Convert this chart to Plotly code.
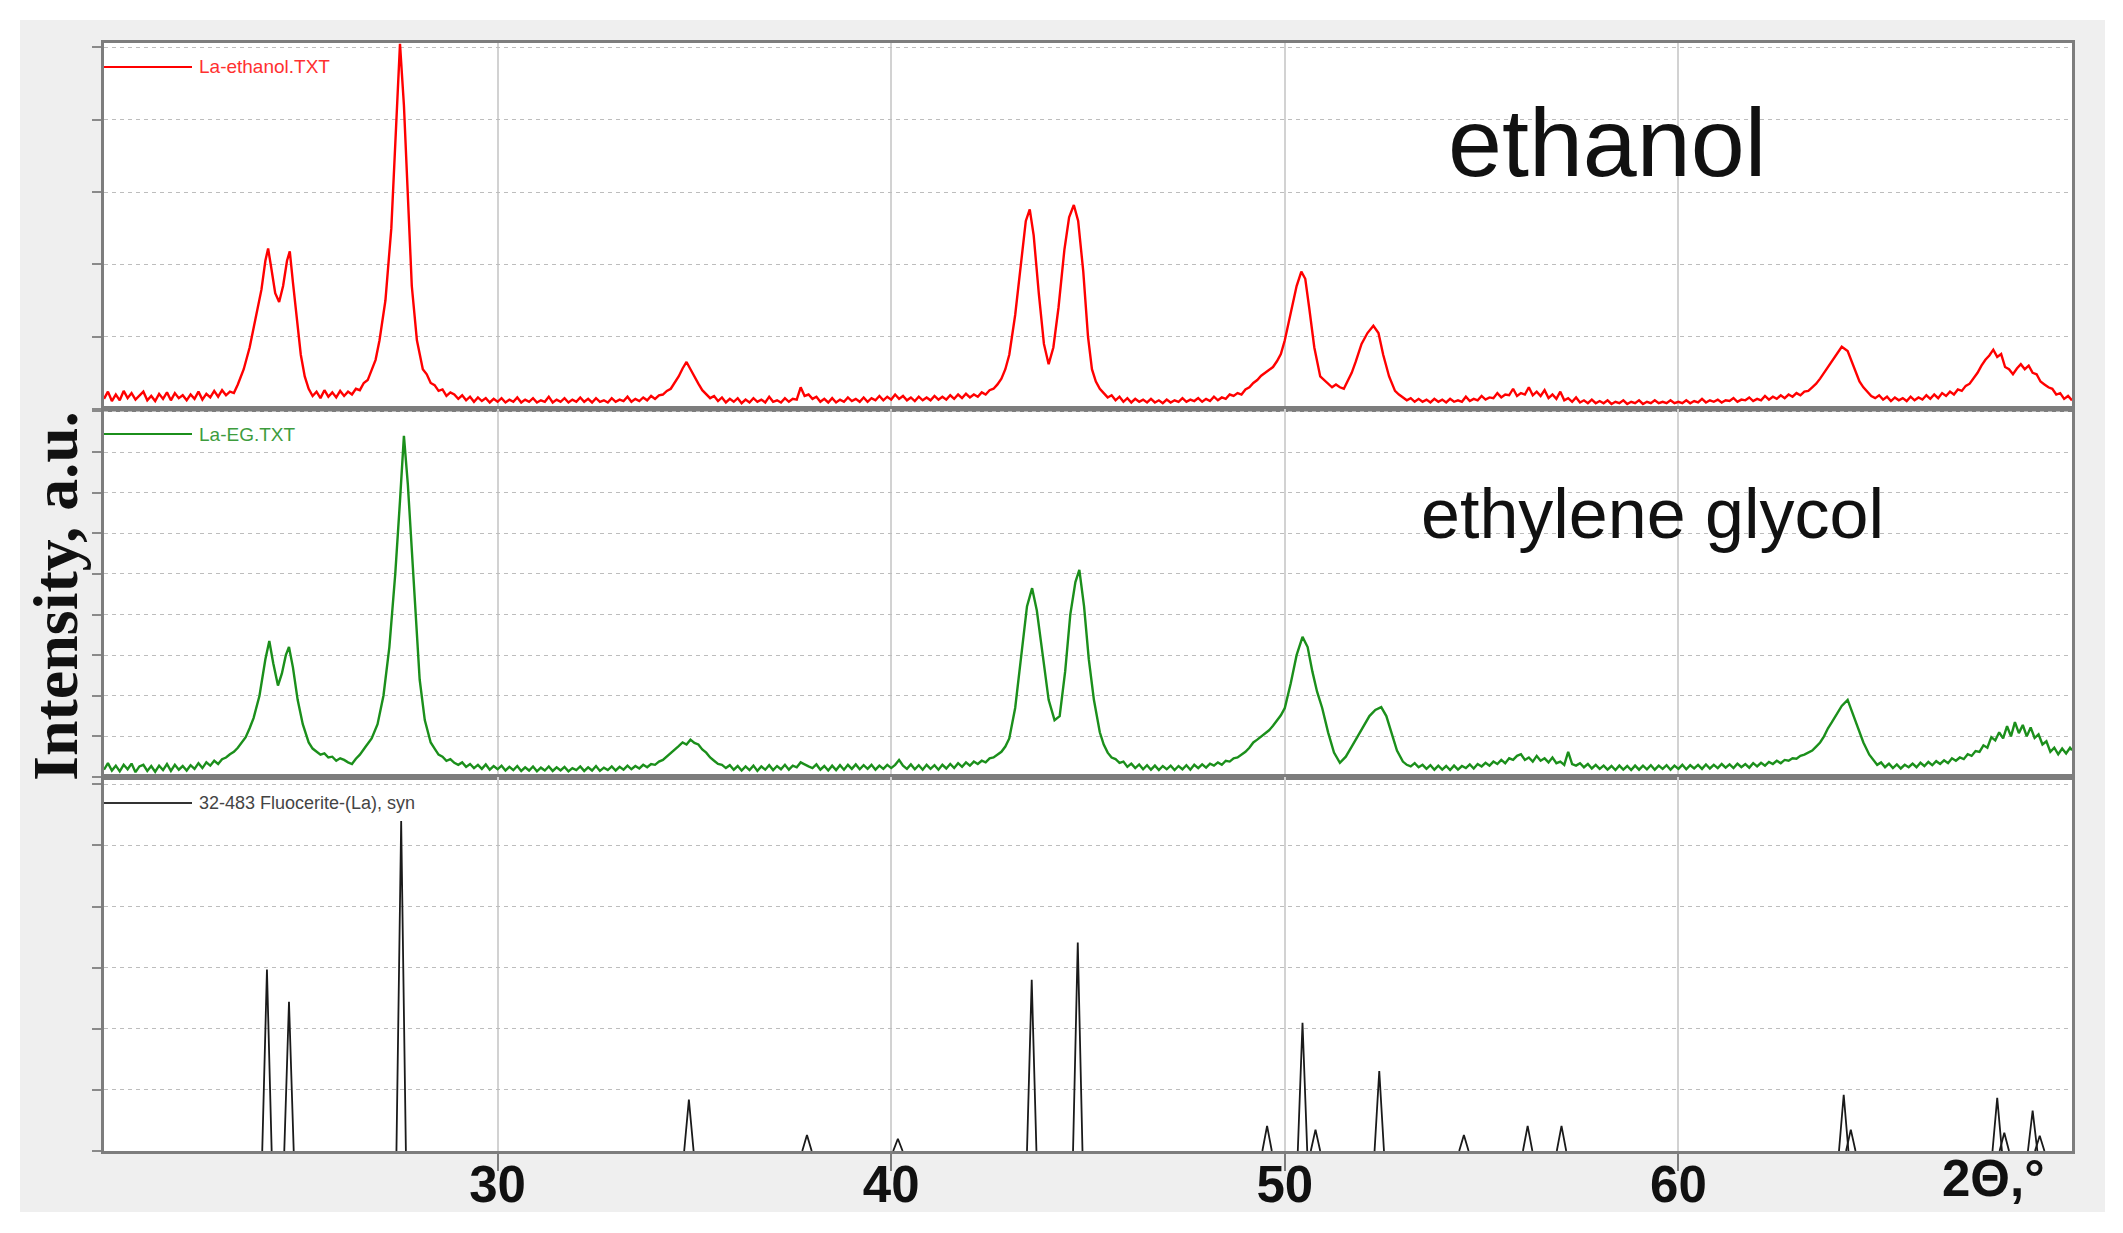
import plotly.graph_objects as go
from plotly.subplots import make_subplots

# ---------------- data ----------------
x_range = [20, 70]
x_ticks = [30, 40, 50, 60]

# La-ethanol.TXT  (top panel, a.u.)
ethanol_scan = [
    (20.0, 14), (20.1, 24), (20.2, 11), (20.3, 20), (20.4, 12), (20.5, 25), (20.6, 15), (20.7, 22),
    (20.8, 13), (20.9, 19), (21.0, 24), (21.1, 12), (21.2, 18), (21.3, 11), (21.4, 21), (21.5, 14),
    (21.6, 23), (21.7, 12), (21.8, 22), (21.9, 15), (22.0, 19), (22.1, 12), (22.2, 20), (22.3, 14),
    (22.4, 24), (22.5, 13), (22.6, 21), (22.7, 16), (22.8, 25), (22.9, 17), (23.0, 26), (23.1, 19),
    (23.2, 24), (23.3, 22), (23.4, 34), (23.55, 55), (23.7, 85), (23.85, 125), (24.0, 165), (24.1, 205),
    (24.17, 222), (24.25, 195), (24.35, 160), (24.45, 148), (24.55, 170), (24.65, 205), (24.72, 218),
    (24.8, 175), (24.9, 120), (25.0, 75), (25.1, 45), (25.2, 28), (25.3, 18), (25.4, 24), (25.5, 15),
    (25.6, 26), (25.7, 17), (25.8, 23), (25.9, 16), (26.0, 25), (26.1, 18), (26.2, 24), (26.3, 20),
    (26.4, 28), (26.5, 26), (26.6, 36), (26.7, 40), (26.8, 55), (26.9, 68), (27.0, 95), (27.15, 150),
    (27.3, 250), (27.42, 400), (27.52, 505), (27.62, 420), (27.72, 300), (27.82, 170), (27.95, 95),
    (28.1, 55), (28.2, 48), (28.3, 36), (28.4, 33), (28.5, 25), (28.6, 27), (28.7, 18), (28.8, 23),
    (28.9, 20), (29.0, 14), (29.1, 19), (29.2, 12), (29.3, 17), (29.4, 10), (29.5, 16), (29.6, 11),
    (29.7, 15), (29.8, 9), (29.9, 14), (30.0, 10), (30.1, 15), (30.2, 9), (30.3, 13), (30.4, 10),
    (30.5, 16), (30.6, 9), (30.7, 13), (30.8, 10), (30.9, 15), (31.0, 9), (31.1, 12), (31.2, 10),
    (31.3, 17), (31.4, 9), (31.5, 13), (31.6, 10), (31.7, 15), (31.8, 9), (31.9, 13), (32.0, 10),
    (32.1, 16), (32.2, 10), (32.3, 14), (32.4, 9), (32.5, 15), (32.6, 10), (32.7, 12), (32.8, 9),
    (32.9, 15), (33.0, 10), (33.1, 13), (33.2, 11), (33.3, 17), (33.4, 10), (33.5, 14), (33.6, 11),
    (33.7, 16), (33.8, 12), (33.9, 18), (34.0, 14), (34.1, 19), (34.2, 20), (34.3, 25), (34.4, 28),
    (34.5, 36), (34.6, 45), (34.7, 56), (34.8, 65), (34.9, 55), (35.0, 46), (35.1, 35), (35.2, 26),
    (35.3, 20), (35.4, 15), (35.5, 18), (35.6, 11), (35.7, 16), (35.8, 9), (35.9, 14), (36.0, 10),
    (36.1, 15), (36.2, 8), (36.3, 13), (36.4, 9), (36.5, 15), (36.6, 10), (36.7, 13), (36.8, 9),
    (36.9, 17), (37.0, 10), (37.1, 12), (37.2, 9), (37.3, 15), (37.4, 10), (37.5, 14), (37.6, 13),
    (37.7, 30), (37.8, 18), (37.9, 20), (38.0, 14), (38.1, 17), (38.2, 10), (38.3, 14), (38.4, 9),
    (38.5, 15), (38.6, 9), (38.7, 13), (38.8, 10), (38.9, 16), (39.0, 11), (39.1, 14), (39.2, 10),
    (39.3, 16), (39.4, 10), (39.5, 15), (39.6, 12), (39.7, 18), (39.8, 12), (39.9, 17), (40.0, 13),
    (40.1, 20), (40.2, 14), (40.3, 18), (40.4, 12), (40.5, 16), (40.6, 11), (40.7, 17), (40.8, 12),
    (40.9, 16), (41.0, 12), (41.1, 18), (41.2, 13), (41.3, 17), (41.4, 13), (41.5, 19), (41.6, 14),
    (41.7, 20), (41.8, 15), (41.9, 21), (42.0, 16), (42.1, 20), (42.2, 17), (42.3, 23), (42.4, 20),
    (42.5, 26), (42.6, 28), (42.7, 34), (42.8, 42), (42.9, 55), (43.0, 75), (43.15, 130), (43.3, 205),
    (43.42, 260), (43.52, 276), (43.62, 240), (43.75, 160), (43.88, 90), (44.0, 62), (44.12, 85),
    (44.25, 140), (44.4, 220), (44.52, 265), (44.64, 282), (44.75, 260), (44.88, 190), (45.0, 100),
    (45.1, 55), (45.2, 38), (45.3, 28), (45.4, 22), (45.5, 16), (45.6, 19), (45.7, 12), (45.8, 17),
    (45.9, 10), (46.0, 15), (46.1, 9), (46.2, 14), (46.3, 10), (46.4, 13), (46.5, 9), (46.6, 14),
    (46.7, 9), (46.8, 12), (46.9, 8), (47.0, 13), (47.1, 9), (47.2, 12), (47.3, 10), (47.4, 15),
    (47.5, 10), (47.6, 13), (47.7, 11), (47.8, 15), (47.9, 10), (48.0, 14), (48.1, 11), (48.2, 17),
    (48.3, 12), (48.4, 16), (48.5, 14), (48.6, 20), (48.7, 18), (48.8, 22), (48.9, 20), (49.0, 27),
    (49.1, 30), (49.2, 36), (49.3, 40), (49.4, 46), (49.5, 50), (49.6, 54), (49.7, 58), (49.8, 66),
    (49.9, 76), (50.0, 95), (50.15, 135), (50.3, 170), (50.42, 190), (50.52, 180), (50.62, 140),
    (50.75, 85), (50.9, 45), (51.0, 40), (51.1, 36), (51.2, 30), (51.3, 34), (51.4, 30), (51.5, 28),
    (51.6, 38), (51.7, 50), (51.8, 65), (51.95, 90), (52.1, 105), (52.25, 115), (52.38, 105),
    (52.5, 75), (52.65, 45), (52.8, 25), (52.9, 20), (53.0, 16), (53.1, 12), (53.2, 15), (53.3, 10),
    (53.4, 14), (53.5, 10), (53.6, 13), (53.7, 9), (53.8, 14), (53.9, 10), (54.0, 13), (54.1, 9),
    (54.2, 14), (54.3, 10), (54.4, 12), (54.5, 10), (54.6, 17), (54.7, 11), (54.8, 14), (54.9, 12),
    (55.0, 18), (55.1, 13), (55.2, 16), (55.3, 15), (55.4, 22), (55.5, 16), (55.6, 20), (55.7, 19),
    (55.8, 28), (55.9, 18), (56.0, 22), (56.1, 20), (56.2, 30), (56.3, 19), (56.4, 24), (56.5, 18),
    (56.6, 26), (56.7, 15), (56.8, 20), (56.9, 14), (57.0, 24), (57.1, 12), (57.2, 15), (57.3, 10),
    (57.4, 16), (57.5, 9), (57.6, 12), (57.7, 8), (57.8, 13), (57.9, 8), (58.0, 11), (58.1, 8),
    (58.2, 12), (58.3, 7), (58.4, 10), (58.5, 8), (58.6, 12), (58.7, 7), (58.8, 10), (58.9, 8),
    (59.0, 12), (59.1, 7), (59.2, 10), (59.3, 8), (59.4, 12), (59.5, 8), (59.6, 10), (59.7, 8),
    (59.8, 12), (59.9, 8), (60.0, 10), (60.1, 8), (60.2, 12), (60.3, 8), (60.4, 11), (60.5, 9),
    (60.6, 14), (60.7, 9), (60.8, 12), (60.9, 10), (61.0, 13), (61.1, 9), (61.2, 12), (61.3, 11),
    (61.4, 15), (61.5, 10), (61.6, 13), (61.7, 12), (61.8, 16), (61.9, 11), (62.0, 14), (62.1, 12),
    (62.2, 18), (62.3, 13), (62.4, 17), (62.5, 14), (62.6, 19), (62.7, 15), (62.8, 20), (62.9, 17),
    (63.0, 22), (63.1, 19), (63.2, 24), (63.3, 25), (63.4, 30), (63.5, 35), (63.6, 42), (63.7, 50),
    (63.8, 58), (63.9, 66), (64.0, 75), (64.15, 86), (64.3, 80), (64.45, 58), (64.6, 38), (64.7, 30),
    (64.8, 24), (64.9, 18), (65.0, 15), (65.1, 19), (65.2, 13), (65.3, 17), (65.4, 11), (65.5, 16),
    (65.6, 12), (65.7, 15), (65.8, 11), (65.9, 17), (66.0, 12), (66.1, 16), (66.2, 13), (66.3, 19),
    (66.4, 14), (66.5, 20), (66.6, 15), (66.7, 22), (66.8, 18), (66.9, 24), (67.0, 20), (67.1, 27),
    (67.2, 25), (67.3, 32), (67.4, 35), (67.5, 42), (67.6, 50), (67.7, 60), (67.8, 68), (67.9, 74),
    (68.0, 82), (68.1, 72), (68.2, 76), (68.3, 58), (68.4, 55), (68.5, 48), (68.6, 56), (68.7, 62),
    (68.8, 55), (68.9, 60), (69.0, 50), (69.1, 48), (69.2, 38), (69.3, 34), (69.4, 30), (69.5, 28),
    (69.6, 20), (69.7, 22), (69.8, 14), (69.9, 18), (70.0, 12),
]

# La-EG.TXT  (middle panel, a.u.)
eg_scan = [
    (20.0, 18), (20.1, 34), (20.2, 16), (20.3, 28), (20.4, 14), (20.5, 30), (20.6, 19), (20.7, 33),
    (20.8, 12), (20.9, 26), (21.0, 30), (21.1, 15), (21.2, 27), (21.3, 13), (21.4, 28), (21.5, 17),
    (21.6, 32), (21.7, 15), (21.8, 30), (21.9, 18), (22.0, 27), (22.1, 16), (22.2, 29), (22.3, 20),
    (22.4, 34), (22.5, 22), (22.6, 36), (22.7, 28), (22.8, 40), (22.9, 32), (23.0, 44), (23.1, 48),
    (23.2, 56), (23.3, 62), (23.4, 72), (23.5, 85), (23.6, 98), (23.7, 120), (23.8, 145), (23.95, 200),
    (24.1, 290), (24.2, 335), (24.3, 280), (24.42, 225), (24.52, 255), (24.62, 300), (24.7, 320),
    (24.8, 270), (24.92, 190), (25.05, 130), (25.2, 85), (25.3, 70), (25.4, 62), (25.5, 55),
    (25.6, 58), (25.7, 48), (25.8, 50), (25.9, 40), (26.0, 46), (26.1, 42), (26.2, 36), (26.3, 32),
    (26.4, 45), (26.5, 55), (26.65, 75), (26.8, 95), (26.95, 130), (27.1, 200), (27.25, 320),
    (27.4, 500), (27.52, 680), (27.62, 840), (27.72, 720), (27.82, 560), (27.92, 380), (28.02, 240),
    (28.15, 140), (28.3, 85), (28.4, 70), (28.5, 55), (28.6, 50), (28.7, 40), (28.8, 44), (28.9, 35),
    (29.0, 30), (29.1, 36), (29.2, 25), (29.3, 32), (29.4, 22), (29.5, 30), (29.6, 20), (29.7, 31),
    (29.8, 18), (29.9, 27), (30.0, 19), (30.1, 28), (30.2, 16), (30.3, 25), (30.4, 17), (30.5, 27),
    (30.6, 15), (30.7, 24), (30.8, 16), (30.9, 26), (31.0, 14), (31.1, 23), (31.2, 16), (31.3, 26),
    (31.4, 15), (31.5, 24), (31.6, 16), (31.7, 25), (31.8, 14), (31.9, 22), (32.0, 17), (32.1, 26),
    (32.2, 15), (32.3, 24), (32.4, 16), (32.5, 27), (32.6, 15), (32.7, 23), (32.8, 17), (32.9, 26),
    (33.0, 16), (33.1, 25), (33.2, 18), (33.3, 28), (33.4, 19), (33.5, 27), (33.6, 21), (33.7, 30),
    (33.8, 24), (33.9, 32), (34.0, 30), (34.1, 38), (34.2, 42), (34.3, 50), (34.4, 58), (34.5, 68),
    (34.6, 76), (34.7, 85), (34.8, 80), (34.9, 92), (35.0, 84), (35.1, 80), (35.2, 68), (35.3, 60),
    (35.4, 48), (35.5, 40), (35.6, 32), (35.7, 30), (35.8, 22), (35.9, 29), (36.0, 18), (36.1, 27),
    (36.2, 16), (36.3, 26), (36.4, 17), (36.5, 28), (36.6, 15), (36.7, 26), (36.8, 18), (36.9, 29),
    (37.0, 17), (37.1, 27), (37.2, 19), (37.3, 30), (37.4, 18), (37.5, 28), (37.6, 24), (37.7, 36),
    (37.8, 30), (37.9, 26), (38.0, 22), (38.1, 31), (38.2, 18), (38.3, 27), (38.4, 16), (38.5, 28),
    (38.6, 17), (38.7, 29), (38.8, 18), (38.9, 30), (39.0, 20), (39.1, 31), (39.2, 19), (39.3, 29),
    (39.4, 20), (39.5, 30), (39.6, 18), (39.7, 28), (39.8, 20), (39.9, 30), (40.0, 22), (40.1, 30),
    (40.2, 42), (40.3, 28), (40.4, 20), (40.5, 31), (40.6, 19), (40.7, 29), (40.8, 18), (40.9, 30),
    (41.0, 20), (41.1, 29), (41.2, 18), (41.3, 30), (41.4, 21), (41.5, 32), (41.6, 22), (41.7, 34),
    (41.8, 25), (41.9, 36), (42.0, 28), (42.1, 38), (42.2, 32), (42.3, 40), (42.4, 36), (42.5, 46),
    (42.6, 48), (42.7, 55), (42.8, 62), (42.9, 75), (43.0, 95), (43.15, 170), (43.3, 300),
    (43.45, 420), (43.58, 465), (43.7, 410), (43.85, 300), (44.0, 190), (44.15, 140), (44.28, 150),
    (44.42, 260), (44.55, 400), (44.68, 480), (44.78, 510), (44.9, 420), (45.02, 290), (45.15, 190),
    (45.3, 110), (45.4, 80), (45.5, 60), (45.6, 48), (45.7, 44), (45.8, 35), (45.9, 38), (46.0, 25),
    (46.1, 33), (46.2, 22), (46.3, 31), (46.4, 19), (46.5, 29), (46.6, 18), (46.7, 28), (46.8, 17),
    (46.9, 27), (47.0, 19), (47.1, 28), (47.2, 17), (47.3, 27), (47.4, 19), (47.5, 29), (47.6, 18),
    (47.7, 30), (47.8, 22), (47.9, 31), (48.0, 23), (48.1, 33), (48.2, 28), (48.3, 36), (48.4, 30),
    (48.5, 40), (48.6, 38), (48.7, 46), (48.8, 48), (48.9, 55), (49.0, 62), (49.1, 72), (49.2, 85),
    (49.3, 92), (49.4, 100), (49.5, 108), (49.6, 115), (49.7, 126), (49.8, 140), (49.9, 152),
    (50.0, 170), (50.15, 230), (50.3, 300), (50.45, 345), (50.58, 320), (50.7, 260), (50.82, 210),
    (50.95, 170), (51.1, 110), (51.25, 60), (51.4, 35), (51.55, 50), (51.7, 75), (51.85, 100),
    (52.0, 125), (52.15, 150), (52.3, 165), (52.45, 172), (52.58, 150), (52.7, 110), (52.85, 65),
    (53.0, 38), (53.1, 30), (53.2, 26), (53.3, 34), (53.4, 24), (53.5, 30), (53.6, 20), (53.7, 29),
    (53.8, 18), (53.9, 28), (54.0, 18), (54.1, 27), (54.2, 17), (54.3, 28), (54.4, 18), (54.5, 27),
    (54.6, 22), (54.7, 31), (54.8, 21), (54.9, 32), (55.0, 26), (55.1, 35), (55.2, 28), (55.3, 38),
    (55.4, 32), (55.5, 42), (55.6, 34), (55.7, 46), (55.8, 42), (55.9, 52), (56.0, 56), (56.1, 42),
    (56.2, 48), (56.3, 38), (56.4, 52), (56.5, 40), (56.6, 46), (56.7, 36), (56.8, 48), (56.9, 34),
    (57.0, 38), (57.1, 30), (57.2, 62), (57.3, 32), (57.4, 28), (57.5, 34), (57.6, 24), (57.7, 32),
    (57.8, 21), (57.9, 30), (58.0, 20), (58.1, 28), (58.2, 18), (58.3, 27), (58.4, 17), (58.5, 28),
    (58.6, 18), (58.7, 27), (58.8, 17), (58.9, 28), (59.0, 18), (59.1, 28), (59.2, 19), (59.3, 29),
    (59.4, 18), (59.5, 28), (59.6, 20), (59.7, 29), (59.8, 18), (59.9, 28), (60.0, 20), (60.1, 30),
    (60.2, 19), (60.3, 29), (60.4, 21), (60.5, 30), (60.6, 20), (60.7, 31), (60.8, 21), (60.9, 30),
    (61.0, 22), (61.1, 32), (61.2, 23), (61.3, 31), (61.4, 22), (61.5, 33), (61.6, 24), (61.7, 32),
    (61.8, 23), (61.9, 34), (62.0, 26), (62.1, 35), (62.2, 28), (62.3, 37), (62.4, 32), (62.5, 40),
    (62.6, 34), (62.7, 42), (62.8, 40), (62.9, 46), (63.0, 45), (63.1, 52), (63.2, 55), (63.3, 60),
    (63.4, 65), (63.5, 75), (63.6, 85), (63.7, 100), (63.8, 120), (63.9, 135), (64.0, 150),
    (64.15, 175), (64.3, 190), (64.42, 160), (64.55, 125), (64.7, 85), (64.85, 55), (64.95, 42),
    (65.05, 30), (65.15, 36), (65.25, 24), (65.35, 33), (65.45, 22), (65.55, 31), (65.65, 21),
    (65.75, 30), (65.85, 24), (65.95, 33), (66.05, 24), (66.15, 35), (66.25, 27), (66.35, 37),
    (66.45, 29), (66.55, 39), (66.65, 32), (66.75, 41), (66.85, 34), (66.95, 46), (67.05, 40),
    (67.15, 48), (67.25, 44), (67.35, 56), (67.45, 52), (67.55, 64), (67.65, 62), (67.75, 78),
    (67.85, 72), (67.95, 98), (68.05, 90), (68.15, 110), (68.25, 95), (68.35, 125), (68.45, 100),
    (68.55, 135), (68.65, 108), (68.75, 128), (68.85, 100), (68.95, 122), (69.05, 96), (69.15, 105),
    (69.25, 80), (69.35, 88), (69.45, 62), (69.55, 72), (69.65, 56), (69.75, 70), (69.85, 58),
    (69.95, 72), (70.0, 66),
]

# 32-483 Fluocerite-(La), syn  (bottom panel reference pattern)
ref_pos = [24.14, 24.70, 27.55, 34.86, 37.86, 40.17, 43.57, 44.74, 49.55, 50.45, 50.78,
           52.40, 54.55, 56.17, 57.03, 64.20, 64.38, 68.10, 68.28, 69.00, 69.18]
ref_int = [297, 244, 540, 84, 26, 20, 280, 341, 41, 210, 35,
           131, 26, 41, 41, 92, 35, 87, 30, 66, 25]

series_names = ["La-ethanol.TXT", "La-EG.TXT", "32-483 Fluocerite-(La), syn"]
panel_labels = ["ethanol", "ethylene glycol"]
y_title = "Intensity, a.u."
x_title = "2\u0398,\u00b0"

# ---------------- styling ----------------
RED = "#ff0000"
GREEN = "#1b8f1b"
BLACK = "#1a1a1a"
AXIS = "#7d7d7d"
SANS = "Liberation Sans, Arial, sans-serif"
SERIF = "Liberation Serif, Times New Roman, serif"

W, H = 2123, 1233
ML, MR, MT, MB = 104, 51, 43, 82
PW, PH = W - ML - MR, H - MT - MB


def px_to_paper(X, Y):
    return (X - ML) / PW, (H - MB - Y) / PH


fig = make_subplots(rows=3, cols=1, shared_xaxes=True, vertical_spacing=0)

ex = [p[0] for p in ethanol_scan]
ey = [p[1] for p in ethanol_scan]
gx = [p[0] for p in eg_scan]
gy = [p[1] for p in eg_scan]

# reference stick pattern: narrow triangular profiles built from positions/intensities
half_base = 0.12
rx, ry = [], []
for p, h in zip(ref_pos, ref_int):
    rx += [p - half_base, p, p + half_base, None]
    ry += [0, h, 0, None]

fig.add_trace(go.Scatter(x=ex, y=ey, mode="lines", name=series_names[0],
                         line=dict(color=RED, width=2.4), showlegend=False), row=1, col=1)
fig.add_trace(go.Scatter(x=gx, y=gy, mode="lines", name=series_names[1],
                         line=dict(color=GREEN, width=2.4), showlegend=False), row=2, col=1)
fig.add_trace(go.Scatter(x=rx, y=ry, mode="lines", name=series_names[2],
                         line=dict(color=BLACK, width=1.8), showlegend=False), row=3, col=1)

y_domains = [[(H - MB - 409) / PH, 1.0],
             [(H - MB - 777) / PH, (H - MB - 409) / PH],
             [0.0, (H - MB - 777) / PH]]
y_ranges = [[0, 506], [0, 906], [0, 612]]

for i in range(3):
    ax = "yaxis" if i == 0 else f"yaxis{i+1}"
    fig.update_layout({ax: dict(
        domain=y_domains[i], range=y_ranges[i], dtick=100, showticklabels=False,
        automargin=False,
        showgrid=True, gridcolor="#bdbdbd", gridwidth=1, griddash="4px,4px",
        zeroline=False, showline=True, linecolor=AXIS, linewidth=3, mirror=True,
        ticks="outside", ticklen=9, tickwidth=2, tickcolor="#8a8a8a", fixedrange=True)})
    xa = "xaxis" if i == 0 else f"xaxis{i+1}"
    fig.update_layout({xa: dict(
        range=x_range, tickvals=x_ticks, showgrid=True, gridcolor="#d2d2d2", gridwidth=1.5,
        automargin=False,
        zeroline=False, showline=True, linecolor=AXIS, linewidth=3, mirror=True,
        showticklabels=(i == 2), ticks="outside" if i == 2 else "", ticklen=17, tickwidth=2,
        tickcolor=AXIS, ticklabelstandoff=-30,
        tickfont=dict(family=SANS, size=51, color="#111", weight="bold"))})

shapes = []
x0p, y0p = px_to_paper(20, 1212)
x1p, y1p = px_to_paper(2105, 20)
shapes.append(dict(type="rect", xref="paper", yref="paper", x0=x0p, x1=x1p, y0=y0p, y1=y1p,
                   fillcolor="#efefef", line=dict(width=0), layer="below"))
shapes.append(dict(type="rect", xref="paper", yref="paper", x0=0, x1=1, y0=0, y1=1,
                   fillcolor="white", line=dict(width=0), layer="below"))

annotations = []
# in-panel legend keys
legend_rows = [(67, RED, "#ff3030", 19), (434, GREEN, "#3d9c3d", 19), (803, "#333333", "#444444", 18)]
for (Y, lc, tc, fs), name in zip(legend_rows, series_names):
    xa_, ya_ = px_to_paper(104, Y)
    xb_, _ = px_to_paper(192, Y)
    shapes.append(dict(type="line", xref="paper", yref="paper", x0=xa_, x1=xb_, y0=ya_, y1=ya_,
                       line=dict(color=lc, width=2)))
    xt, _ = px_to_paper(197, Y)
    annotations.append(dict(text=name, xref="paper", yref="paper", x=xt, y=ya_,
                            xanchor="left", yanchor="middle", showarrow=False,
                            font=dict(family=SANS, size=fs, color=tc)))

# panel labels
ax_, ay_ = px_to_paper(1607, 142)
annotations.append(dict(text=panel_labels[0], xref="paper", yref="paper", x=ax_, y=ay_,
                        xanchor="center", yanchor="middle", showarrow=False,
                        font=dict(family=SANS, size=97, color="#111")))
ax_, ay_ = px_to_paper(1652, 514)
annotations.append(dict(text=panel_labels[1], xref="paper", yref="paper", x=ax_, y=ay_,
                        xanchor="center", yanchor="middle", showarrow=False,
                        font=dict(family=SANS, size=70, color="#111")))
# axis titles
ax_, ay_ = px_to_paper(55, 596)
annotations.append(dict(text=y_title, xref="paper", yref="paper", x=ax_, y=ay_, textangle=-90,
                        xanchor="center", yanchor="middle", showarrow=False,
                        font=dict(family=SERIF, size=64, color="#111", weight="bold")))
ax_, ay_ = px_to_paper(1993, 1178)
annotations.append(dict(text=x_title, xref="paper", yref="paper", x=ax_, y=ay_,
                        xanchor="center", yanchor="middle", showarrow=False,
                        font=dict(family=SANS, size=51, color="#111", weight="bold")))

fig.update_layout(
    width=W, height=H,
    margin=dict(l=ML, r=MR, t=MT, b=MB, autoexpand=False),
    paper_bgcolor="white", plot_bgcolor="white",
    showlegend=False,
    shapes=shapes, annotations=annotations,
)

fig.write_html("out.html", config={"displayModeBar": False},
               post_script="document.body.style.margin='0px';document.body.style.overflow='hidden';")
